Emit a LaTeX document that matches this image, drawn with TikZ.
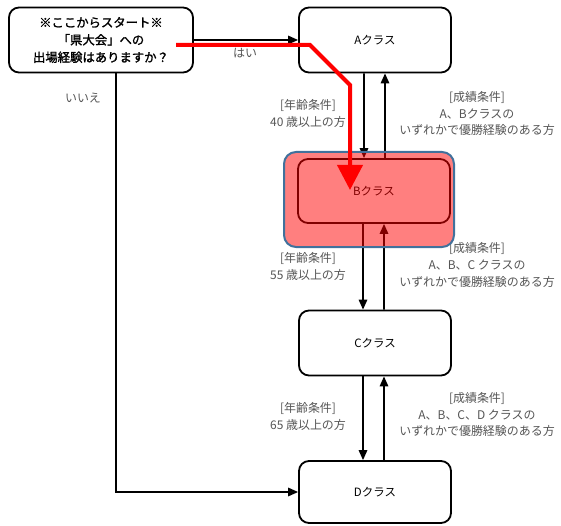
\documentclass[tikz,border=0pt]{standalone}
\usepackage{fontspec}
\setmainfont{Noto Sans CJK JP}
\newfontfamily\startfont[FakeBold=1.5]{Noto Sans CJK JP}
\usetikzlibrary{arrows.meta}
\definecolor{hlblue}{HTML}{41719C}
\definecolor{lblgray}{HTML}{555555}
\begin{document}
\begin{tikzpicture}[x=1bp,y=-1bp,
  cls/.style={draw=black, line width=1.8bp, rounded corners=10bp, minimum width=152bp, minimum height=65bp, inner sep=0pt, font=\fontsize{11.5}{13}\selectfont},
  lbl/.style={text=lblgray, font=\fontsize{12}{17}\selectfont, align=center, inner sep=0pt},
  conn/.style={line width=1.6bp, -{Triangle[length=10bp,width=8.5bp]}},
  hl/.style={draw=hlblue, line width=2bp, fill=red, fill opacity=0.5, rounded corners=12bp},
  redpath/.style={draw=red, line width=4bp, -{Triangle[length=25bp,width=25bp]}}
]
\useasboundingbox (0,0) rectangle (561,526);
\node[cls, minimum width=184bp, align=center, font=\startfont\fontsize{12.4}{17.5}\selectfont] (s) at (101,40) {※ここからスタート※\\「県大会」への\\出場経験はありますか？};
\node[cls] (A) at (375,40) {Aクラス};
\node[cls, minimum height=64bp] (B) at (374,191) {Bクラス};
\node[cls] (C) at (375,343) {Cクラス};
\node[cls, minimum height=62bp] (D) at (375,492) {Dクラス};

\draw[conn] (s.east) -- (A.west);
\draw[conn] ([xshift=15bp]s.south) |- (D.west);
\node[lbl] (yes) at (245,53) {はい};
\node[lbl] (no) at (83,98) {いいえ};

\draw[conn] ([xshift=-11bp]A.south) -- ([xshift=-10bp]B.north);
\draw[conn] ([xshift=11bp]B.north) -- ([xshift=10bp]A.south);
\draw[conn] ([xshift=-11bp]B.south) -- ([xshift=-12bp]C.north);
\draw[conn] ([xshift=9bp]C.north) -- ([xshift=10bp]B.south);
\draw[conn] ([xshift=-12bp]C.south) -- ([xshift=-12bp]D.north);
\draw[conn] ([xshift=9bp]D.north) -- ([xshift=9bp]C.south);

\node[lbl] (ab1) at (308,113.5) {[年齢条件]\\40 歳以上の方};
\node[lbl] (ab2) at (477,113.5) {[成績条件]\\A、Bクラスの\\いずれかで優勝経験のある方};
\node[lbl] (bc1) at (308,266) {[年齢条件]\\55 歳以上の方};
\node[lbl] (bc2) at (477,265) {[成績条件]\\A、B、C クラスの\\いずれかで優勝経験のある方};
\node[lbl] (cd1) at (308,416) {[年齢条件]\\65 歳以上の方};
\node[lbl] (cd2) at (477,414.5) {[成績条件]\\A、B、C、D クラスの\\いずれかで優勝経験のある方};

\draw[hl] (284,152) rectangle (454,247);
\coordinate (r0) at (176,45);
\coordinate (r1) at (310,45);
\coordinate (r2) at (350,85);
\coordinate (r3) at (350,190);
\draw[redpath] (r0) -- (r1) -- (r2) -- (r3);
\end{tikzpicture}
\end{document}
